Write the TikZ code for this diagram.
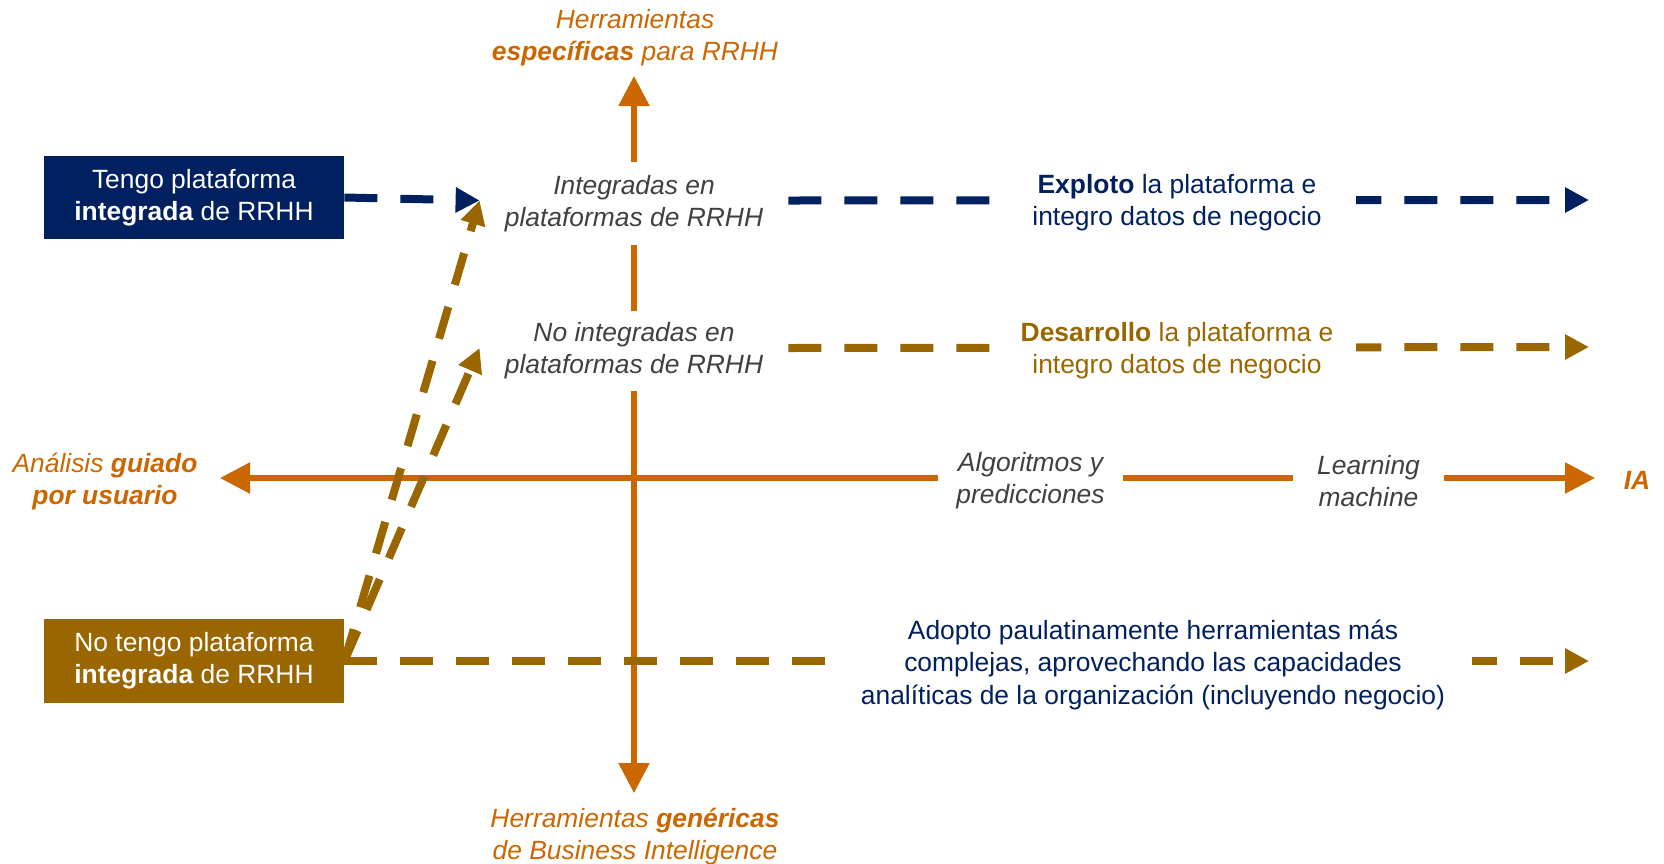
\documentclass[tikz,border=0pt]{standalone}
\usepackage{fontspec}
\setmainfont{Liberation Sans}
\usetikzlibrary{arrows.meta,backgrounds}
\definecolor{axisor}{RGB}{204,102,0}
\definecolor{navy}{RGB}{0,32,96}
\definecolor{gold}{RGB}{153,102,0}
\definecolor{txtgray}{RGB}{64,64,64}
\begin{document}
\begin{tikzpicture}[x=0.5pt,y=-0.5pt,
  txt/.style={font=\fontsize{13.2pt}{15.9pt}\selectfont, align=center, inner sep=0pt, yshift=-1.4pt},
  itxt/.style={font=\fontsize{13.2pt}{15.9pt}\selectfont\itshape, align=center, inner sep=0pt, yshift=-1.4pt},
  maskbox/.style={fill=white, minimum height=35pt},
  boxnode/.style={font=\fontsize{13.2pt}{15.9pt}\selectfont, align=center, inner sep=0pt, text=white, minimum width=150pt, minimum height=42pt},
  axisline/.style={draw=axisor, line width=2.7pt,
     {Triangle[length=15pt,width=15pt]}-{Triangle[length=15pt,width=15pt]}},
  dashline/.style={line width=4pt, dash pattern=on 16.5pt off 11.5pt,
     -{Triangle[length=12pt,width=12pt]}}
]
\useasboundingbox (0,0) rectangle (1664,863);

% arrow tips of the axes and right-hand ends
\coordinate (toptip) at (634,76);
\coordinate (bottip) at (634,793);
\coordinate (lefttip) at (220,478);
\coordinate (righttip) at (1595,478);
\coordinate (endA) at (1589,200);
\coordinate (endB) at (1589,347);
\coordinate (endC) at (1589,661);

% axis labels
\node[itxt, text=axisor] (toplab) at (635,35) {Herramientas\\\textbf{específicas} para RRHH};
\node[itxt, text=axisor] (botlab) at (635,834) {Herramientas \textbf{genéricas}\\de Business Intelligence};
\node[itxt, text=axisor] (leftlab) at (105,479) {Análisis \textbf{guiado}\\\textbf{por usuario}};
\node[itxt, text=axisor, font=\fontsize{13.2pt}{15.9pt}\selectfont\itshape\bfseries] (ialab) at (1637,478) {IA};

% masking text nodes on the axes and lines
\node[itxt, text=txtgray, fill=white, minimum width=154pt, minimum height=41.5pt] (integ) at (634,200.5) {Integradas en\\plataformas de RRHH};
\node[itxt, text=txtgray, fill=white, minimum width=154pt, minimum height=40pt] (nointeg) at (634,348) {No integradas en\\plataformas de RRHH};
\node[itxt, text=txtgray, maskbox, minimum width=92.5pt] (algo) at (1030.5,478) {Algoritmos y\\predicciones};
\node[itxt, text=txtgray, maskbox, minimum width=75.5pt] (learn) at (1368.5,478) {Learning\\machine};
\node[txt, text=navy, maskbox, minimum width=179pt] (exploto) at (1177,200) {\textbf{Exploto} la plataforma e\\integro datos de negocio};
\node[txt, text=gold, maskbox, minimum width=179pt] (desarrollo) at (1177,348) {\textbf{Desarrollo} la plataforma e\\integro datos de negocio};
\node[txt, text=navy, maskbox, minimum width=318.5pt, minimum height=50pt, font=\fontsize{13.2pt}{16.2pt}\selectfont] (adopto) at (1153,662) {Adopto paulatinamente herramientas más\\complejas, aprovechando las capacidades\\analíticas de la organización (incluyendo negocio)};

% boxes
\node[boxnode, fill=navy, minimum height=41.5pt] (navybox) at (194,197.5) {Tengo plataforma\\\textbf{integrada} de RRHH};
\node[boxnode, fill=gold] (brownbox) at (194,661) {No tengo plataforma\\\textbf{integrada} de RRHH};

\begin{pgfonlayer}{background}
  \draw[axisline] (toptip) -- (bottip);
  \draw[axisline] (lefttip) -- (righttip);
  \draw[dashline, navy] ([yshift=1.4pt]integ.east) -- (endA);
  \draw[dashline, gold] ([yshift=1.4pt]nointeg.east) -- (endB);
  \draw[dashline, gold] (brownbox.east) -- (endC);
\end{pgfonlayer}

\draw[dashline, gold] (brownbox.east) -- ([yshift=1.4pt]integ.west);
\draw[dashline, gold] (brownbox.east) -- ([yshift=1.4pt]nointeg.west);
\draw[dashline, navy] (navybox.east) -- ([yshift=1.4pt]integ.west);
\end{tikzpicture}
\end{document}
